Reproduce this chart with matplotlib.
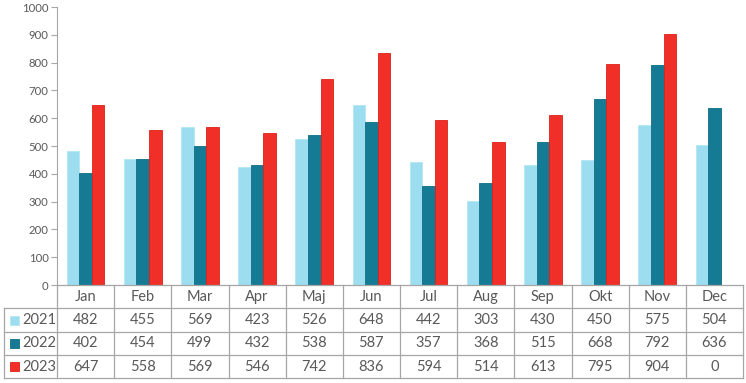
import numpy as np
import matplotlib.pyplot as plt

plt.rcParams['font.family'] = ['Lato', 'DejaVu Sans']

# ============= data =============
months = ['Jan', 'Feb', 'Mar', 'Apr', 'Maj', 'Jun', 'Jul', 'Aug', 'Sep', 'Okt', 'Nov', 'Dec']
years = ['2021', '2022', '2023']
v2021 = [482, 455, 569, 423, 526, 648, 442, 303, 430, 450, 575, 504]
v2022 = [402, 454, 499, 432, 538, 587, 357, 368, 515, 668, 792, 636]
v2023 = [647, 558, 569, 546, 742, 836, 594, 514, 613, 795, 904, 0]

colors = ['#9CDDF0', '#157A94', '#F02F28']
edges = ['#B5E6F4', '#0F6E86', '#E0201A']
series = [v2021, v2022, v2023]

W, H = 746, 383
fig = plt.figure(figsize=(W / 100, H / 100), dpi=100)

# axes area in pixels
x0, x1 = 57, 743
y_top, y_zero = 7, 285
ax = fig.add_axes([x0 / W, 1 - y_zero / H, (x1 - x0) / W, (y_zero - y_top) / H])

x = np.arange(len(months))
bw = 0.22
for i, vals in enumerate(series):
    ax.bar(x + (i - 1) * bw, vals, bw, color=colors[i], edgecolor=edges[i], linewidth=0.6)

ax.set_xlim(-0.5, len(months) - 0.5)
ax.set_ylim(0, 1000)
ax.set_yticks(np.arange(0, 1001, 100))
ax.set_xticks([])
ax.tick_params(axis='y', labelsize=8.2, colors='#595959', length=4, width=0.8, color='#A6A6A6', pad=2)
for s in ['top', 'right', 'bottom']:
    ax.spines[s].set_visible(False)
ax.spines['left'].set_color('#A6A6A6')

# ============= data table =============
line_c = '#A6A6A6'
txt_c = '#595959'
rows_y = [285, 308.3, 331.7, 355, 378.3]
tab_left = 4
col_w = (x1 - x0) / len(months)


def fx(px):
    return px / W


def fy(py):
    return 1 - py / H


def hline(xa, xb, py):
    fig.add_artist(plt.Line2D([fx(xa), fx(xb)], [fy(py), fy(py)], color=line_c, lw=0.9))


def vline(px, ya, yb):
    fig.add_artist(plt.Line2D([fx(px), fx(px)], [fy(ya), fy(yb)], color=line_c, lw=0.9))


hline(x0, x1, rows_y[0])
for py in rows_y[1:]:
    hline(tab_left, x1, py)
for j in range(len(months) + 1):
    vline(x0 + j * col_w, rows_y[0], rows_y[-1])
vline(tab_left, rows_y[1], rows_y[-1])

# header
for j, m in enumerate(months):
    fig.text(fx(x0 + (j + 0.5) * col_w), fy((rows_y[0] + rows_y[1]) / 2), m,
             ha='center', va='center', fontsize=10.5, color=txt_c)

# rows
for i, vals in enumerate(series):
    yc = (rows_y[i + 1] + rows_y[i + 2]) / 2
    fig.patches.append(plt.Rectangle((fx(10), fy(yc + 4.5)), 9 / W, 9 / H,
                                     facecolor=colors[i], edgecolor=edges[i], lw=0.6,
                                     transform=fig.transFigure, figure=fig))
    fig.text(fx(22), fy(yc), years[i], ha='left', va='center', fontsize=10.5, color=txt_c)
    for j, v in enumerate(vals):
        fig.text(fx(x0 + (j + 0.5) * col_w), fy(yc), str(v),
                 ha='center', va='center', fontsize=10.5, color=txt_c)

fig.savefig('out.png', dpi=100)
